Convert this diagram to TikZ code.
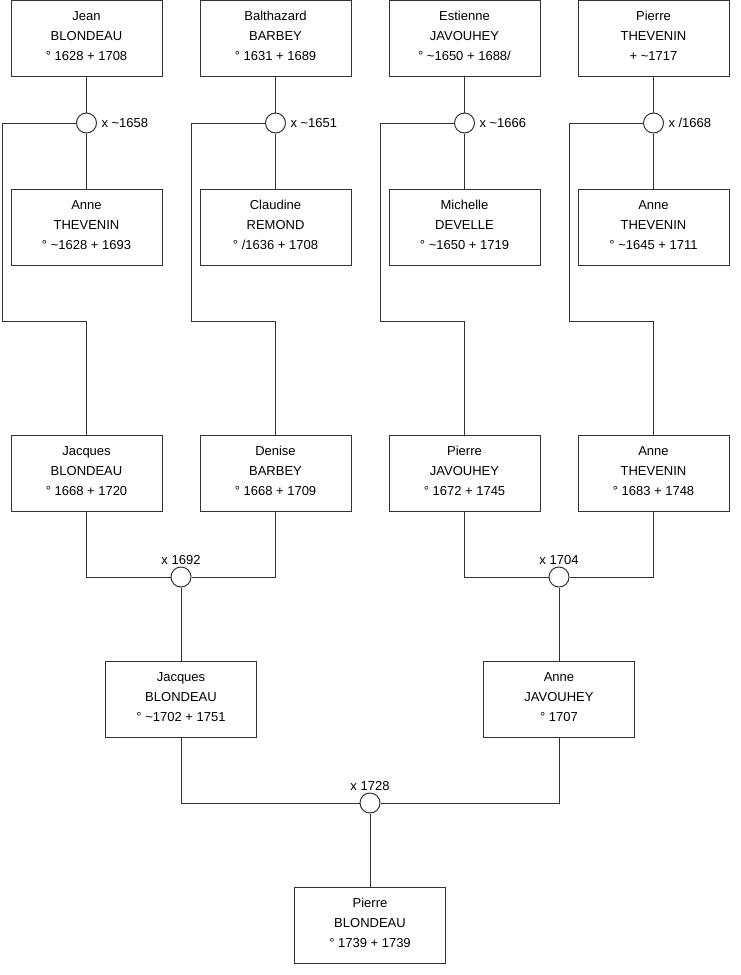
\documentclass[tikz,border=0pt]{standalone}
\usepackage{fontspec}
\setmainfont{Liberation Sans}
\begin{document}
\begin{tikzpicture}[
  x=0.75pt, y=-0.75pt,
  line width=0.75pt, draw=black!80,
  person/.style={rectangle, draw, fill=white, minimum width=113.25pt, minimum height=57pt, inner sep=0pt, text depth=3pt, align=center, font=\fontsize{9.75}{15}\selectfont},
  union/.style={circle, draw, fill=white, minimum size=15pt, inner sep=0pt},
  year/.style={font=\fontsize{9.75}{11}\selectfont, inner sep=1pt}
]
  \useasboundingbox (0,0) rectangle (740,975);

  % Generation 1
  \node[person] (jean) at (86.5, 38) {Jean\\BLONDEAU\\° 1628 + 1708};
  \node[person] (balthazard) at (275.5, 38) {Balthazard\\BARBEY\\° 1631 + 1689};
  \node[person] (estienne) at (464.5, 38) {Estienne\\JAVOUHEY\\° \textasciitilde1650 + 1688/};
  \node[person] (pierreT) at (653.5, 38) {Pierre\\THEVENIN\\+ \textasciitilde1717};

  \node[person] (anneT) at (86.5, 227) {Anne\\THEVENIN\\° \textasciitilde1628 + 1693};
  \node[person] (claudine) at (275.5, 227) {Claudine\\REMOND\\° /1636 + 1708};
  \node[person] (michelle) at (464.5, 227) {Michelle\\DEVELLE\\° \textasciitilde1650 + 1719};
  \node[person] (anneT2) at (653.5, 227) {Anne\\THEVENIN\\° \textasciitilde1645 + 1711};

  % Marriages 1
  \node[union] (m1) at (86.5, 123) {};
  \node[union] (m2) at (275.5, 123) {};
  \node[union] (m3) at (464.5, 123) {};
  \node[union] (m4) at (653.5, 123) {};
  \node[year, anchor=west] (y1) at ([xshift=2pt]m1.east) {x \textasciitilde1658};
  \node[year, anchor=west] (y2) at ([xshift=2pt]m2.east) {x \textasciitilde1651};
  \node[year, anchor=west] (y3) at ([xshift=2pt]m3.east) {x \textasciitilde1666};
  \node[year, anchor=west] (y4) at ([xshift=2pt]m4.east) {x /1668};

  \draw (jean) -- (m1) -- (anneT);
  \draw (balthazard) -- (m2) -- (claudine);
  \draw (estienne) -- (m3) -- (michelle);
  \draw (pierreT) -- (m4) -- (anneT2);

  % Generation 2
  \node[person] (jacques) at (86.5, 473) {Jacques\\BLONDEAU\\° 1668 + 1720};
  \node[person] (denise) at (275.5, 473) {Denise\\BARBEY\\° 1668 + 1709};
  \node[person] (pierreJ) at (464.5, 473) {Pierre\\JAVOUHEY\\° 1672 + 1745};
  \node[person] (anneT3) at (653.5, 473) {Anne\\THEVENIN\\° 1683 + 1748};

  % Bends
  \coordinate (b1) at (2, 321);
  \coordinate (b2) at (191, 321);
  \coordinate (b3) at (380, 321);
  \coordinate (b4) at (569, 321);

  \draw (m1.west) -| (b1) -| (jacques.north);
  \draw (m2.west) -| (b2) -| (denise.north);
  \draw (m3.west) -| (b3) -| (pierreJ.north);
  \draw (m4.west) -| (b4) -| (anneT3.north);

  % Marriages 2
  \node[union, label={[year]above:x 1692}] (m5) at (181, 577) {};
  \node[union, label={[year]above:x 1704}] (m6) at (559, 577) {};

  \draw (jacques.south) |- (m5.west);
  \draw (denise.south) |- (m5.east);
  \draw (pierreJ.south) |- (m6.west);
  \draw (anneT3.south) |- (m6.east);

  % Generation 3
  \node[person] (jacques2) at (181, 699) {Jacques\\BLONDEAU\\° \textasciitilde1702 + 1751};
  \node[person] (anneJ) at (559, 699) {Anne\\JAVOUHEY\\° 1707};

  \draw (m5) -- (jacques2);
  \draw (m6) -- (anneJ);

  % Marriage 3
  \node[union, label={[year]above:x 1728}] (m7) at (370, 803) {};
  \draw (jacques2.south) |- (m7.west);
  \draw (anneJ.south) |- (m7.east);

  % Generation 4
  \node[person] (pierreB) at (370, 925) {Pierre\\BLONDEAU\\° 1739 + 1739};
  \draw (m7) -- (pierreB);

\end{tikzpicture}
\end{document}
